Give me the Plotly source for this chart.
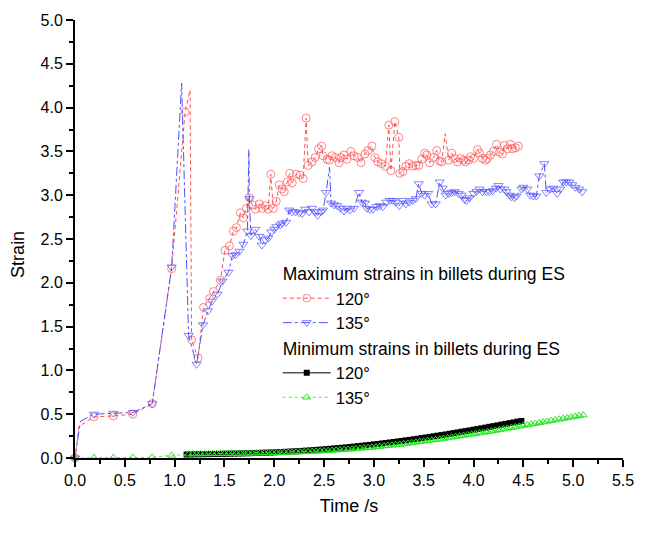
import plotly.graph_objects as go

# ---------------- data ----------------
# Maximum strain, 120° channel: sampled points (time in s, effective strain)
MAX120_T = [0.0, 0.19, 0.385, 0.58, 0.775, 0.97, 1.105, 1.17, 1.235, 1.29, 1.35, 1.39,
            1.46, 1.505, 1.55, 1.59, 1.62, 1.66, 1.69, 1.72, 1.75, 1.78, 1.81, 1.85,
            1.88, 1.91, 1.94, 1.965, 1.99, 2.02, 2.05, 2.08, 2.10, 2.13, 2.155, 2.18,
            2.22, 2.26, 2.29, 2.32, 2.34, 2.38, 2.41, 2.445, 2.475, 2.49, 2.53, 2.555,
            2.58, 2.615, 2.65, 2.67, 2.70, 2.73, 2.77, 2.80, 2.835, 2.87, 2.91, 2.94,
            2.98, 3.01, 3.04, 3.075, 3.115, 3.15, 3.17, 3.21, 3.25, 3.26, 3.29, 3.32,
            3.355, 3.39, 3.42, 3.45, 3.48, 3.51, 3.53, 3.56, 3.60, 3.63, 3.66, 3.68,
            3.75, 3.78, 3.81, 3.84, 3.87, 3.90, 3.92, 3.95, 3.97, 4.00, 4.04, 4.06,
            4.09, 4.12, 4.14, 4.17, 4.20, 4.23, 4.26, 4.29, 4.31, 4.34, 4.37, 4.39,
            4.42, 4.45]
MAX120_S = [0.0, 0.47, 0.48, 0.50, 0.62, 2.16, 3.95, 1.35, 1.14, 1.72, 1.82, 1.90,
            2.03, 2.37, 2.42, 2.59, 2.63, 2.80, 2.74, 2.85, 2.97, 2.89, 2.84, 2.90,
            2.85, 2.88, 2.84, 3.24, 2.85, 2.93, 3.12, 3.07, 3.04, 3.15, 3.25, 3.14,
            3.24, 3.23, 3.19, 3.88, 3.34, 3.38, 3.43, 3.53, 3.56, 3.45, 3.41, 3.40,
            3.45, 3.43, 3.37, 3.43, 3.46, 3.41, 3.50, 3.45, 3.43, 3.37, 3.47, 3.51,
            3.56, 3.43, 3.38, 3.36, 3.33, 3.80, 3.28, 3.84, 3.66, 3.25, 3.27, 3.33,
            3.36, 3.33, 3.34, 3.34, 3.41, 3.48, 3.46, 3.37, 3.43, 3.51, 3.39, 3.38,
            3.40, 3.48, 3.42, 3.38, 3.42, 3.40, 3.38, 3.40, 3.44, 3.42, 3.52, 3.48,
            3.42, 3.40, 3.42, 3.46, 3.50, 3.58, 3.49, 3.47, 3.57, 3.53, 3.58, 3.53,
            3.54, 3.56]
# short-lived peaks between samples (drawn as line only)
MAX120_PEAK_T = [0.04, 1.155, 3.715]
MAX120_PEAK_S = [0.36, 4.20, 3.70]

# Maximum strain, 135° channel
MAX135_T = [0.0, 0.19, 0.385, 0.58, 0.775, 0.97, 1.14, 1.22, 1.285, 1.335, 1.375, 1.43,
            1.48, 1.54, 1.58, 1.61, 1.65, 1.69, 1.73, 1.75, 1.765, 1.81, 1.85, 1.875,
            1.91, 1.94, 1.97, 2.00, 2.02, 2.06, 2.08, 2.12, 2.15, 2.18, 2.215, 2.25,
            2.28, 2.31, 2.35, 2.38, 2.41, 2.435, 2.47, 2.49, 2.52, 2.57, 2.60, 2.63,
            2.665, 2.70, 2.73, 2.76, 2.80, 2.85, 2.88, 2.91, 2.93, 2.96, 2.99, 3.03,
            3.06, 3.09, 3.125, 3.16, 3.19, 3.22, 3.255, 3.29, 3.32, 3.355, 3.39, 3.42,
            3.45, 3.48, 3.51, 3.545, 3.58, 3.62, 3.66, 3.69, 3.72, 3.75, 3.78, 3.81,
            3.85, 3.88, 3.91, 3.93, 3.96, 4.00, 4.03, 4.06, 4.09, 4.13, 4.16, 4.19,
            4.225, 4.25, 4.27, 4.31, 4.33, 4.36, 4.38, 4.41, 4.43, 4.48, 4.50, 4.54,
            4.57, 4.60, 4.63, 4.66, 4.71, 4.73, 4.77, 4.80, 4.84, 4.87, 4.90, 4.93,
            4.96, 4.99, 5.02, 5.06, 5.09]
MAX135_S = [0.0, 0.50, 0.51, 0.52, 0.62, 2.18, 1.40, 1.07, 1.52, 1.68, 1.79, 1.87,
            2.02, 2.12, 2.31, 2.32, 2.36, 2.44, 2.59, 2.96, 2.54, 2.61, 2.53, 2.43,
            2.49, 2.51, 2.58, 2.61, 2.64, 2.66, 2.68, 2.69, 2.83, 2.81, 2.81, 2.80,
            2.79, 2.84, 2.81, 2.85, 2.81, 2.77, 2.81, 2.83, 3.03, 2.91, 2.89, 2.88,
            2.85, 2.82, 2.85, 2.83, 2.85, 3.03, 2.92, 2.91, 2.85, 2.84, 2.84, 2.87,
            2.88, 2.87, 2.92, 2.94, 2.94, 2.92, 2.88, 2.94, 2.90, 2.92, 2.94, 2.96,
            3.13, 3.02, 3.00, 3.02, 2.90, 2.90, 3.15, 3.08, 3.00, 3.02, 3.03, 3.04,
            3.02, 3.00, 2.95, 2.94, 2.97, 3.02, 3.04, 3.07, 3.04, 3.04, 3.04, 3.05,
            3.08, 3.11, 3.07, 3.07, 3.04, 3.00, 2.98, 2.97, 2.99, 3.07, 3.09, 3.07,
            3.00, 2.99, 2.99, 3.22, 3.36, 3.03, 3.07, 3.08, 3.02, 3.07, 3.15, 3.15,
            3.15, 3.12, 3.09, 3.07, 3.04]
MAX135_PEAK_T = [0.055, 1.07, 1.745, 2.555]
MAX135_PEAK_S = [0.42, 4.28, 3.52, 3.32]

# Minimum strain, 120° channel (sampled every 0.04 s from 1.12 s)
MIN120_T0, MIN120_DT = 1.12, 0.04
MIN120_S = [0.040, 0.041, 0.042, 0.043, 0.043, 0.044, 0.045, 0.046, 0.047, 0.048,
            0.049, 0.050, 0.051, 0.052, 0.053, 0.054, 0.055, 0.057, 0.058, 0.060,
            0.061, 0.063, 0.065, 0.067, 0.069, 0.071, 0.073, 0.076, 0.078, 0.081,
            0.084, 0.087, 0.090, 0.094, 0.097, 0.101, 0.105, 0.109, 0.113, 0.117,
            0.121, 0.126, 0.130, 0.135, 0.140, 0.145, 0.150, 0.155, 0.160, 0.166,
            0.171, 0.177, 0.183, 0.189, 0.195, 0.201, 0.207, 0.214, 0.220, 0.227,
            0.234, 0.241, 0.248, 0.255, 0.262, 0.269, 0.277, 0.284, 0.292, 0.300,
            0.307, 0.315, 0.323, 0.331, 0.339, 0.347, 0.356, 0.364, 0.372, 0.381,
            0.389, 0.398, 0.406, 0.415, 0.423]

# Minimum strain, 135° channel: early samples, then every 0.04 s from 1.14 s
MIN135_EARLY_T = [0.0, 0.19, 0.385, 0.58, 0.775, 0.97]
MIN135_EARLY_S = [0.0, 0.005, 0.005, 0.006, 0.008, 0.030]
MIN135_T0, MIN135_DT = 1.14, 0.04
MIN135_S = [0.044, 0.045, 0.045, 0.046, 0.046, 0.047, 0.047, 0.048, 0.049, 0.049,
            0.050, 0.050, 0.051, 0.052, 0.052, 0.053, 0.054, 0.055, 0.056, 0.057,
            0.058, 0.059, 0.060, 0.061, 0.062, 0.063, 0.065, 0.066, 0.068, 0.070,
            0.072, 0.074, 0.076, 0.078, 0.080, 0.083, 0.086, 0.089, 0.092, 0.095,
            0.098, 0.101, 0.105, 0.109, 0.113, 0.117, 0.121, 0.126, 0.131, 0.136,
            0.141, 0.146, 0.151, 0.156, 0.161, 0.167, 0.173, 0.179, 0.185, 0.191,
            0.197, 0.203, 0.209, 0.215, 0.222, 0.229, 0.236, 0.243, 0.250, 0.257,
            0.264, 0.271, 0.278, 0.285, 0.292, 0.299, 0.306, 0.314, 0.322, 0.330,
            0.338, 0.346, 0.354, 0.362, 0.370, 0.378, 0.386, 0.394, 0.402, 0.410,
            0.418, 0.426, 0.434, 0.442, 0.450, 0.458, 0.466, 0.474, 0.482, 0.490]

GROUP_MAX = "Maximum strains in billets during ES"
GROUP_MIN = "Minimum strains in billets during ES"
LABEL_120 = "120°"
LABEL_135 = "135°"

FONT = "Arial, Liberation Sans, sans-serif"


def with_peaks(t, s, pt, ps, size):
    """Merge sampled points with line-only peaks; peaks get zero-size markers."""
    pts = [(a, b, size) for a, b in zip(t, s)] + [(a, b, 0) for a, b in zip(pt, ps)]
    pts.sort(key=lambda p: p[0])
    return [p[0] for p in pts], [p[1] for p in pts], [p[2] for p in pts]


def grid(t0, dt, n):
    return [round(t0 + dt * i, 3) for i in range(n)]


fig = go.Figure()

x, y, sz = with_peaks(MAX120_T, MAX120_S, MAX120_PEAK_T, MAX120_PEAK_S, 8)
fig.add_trace(go.Scatter(
    x=x, y=y, mode="lines+markers", name=LABEL_120,
    legendgroup="max", legendgrouptitle=dict(text=GROUP_MAX),
    line=dict(color="rgb(255,80,80)", width=1, dash="4px,3px"),
    marker=dict(symbol="circle-open", size=sz, color="rgb(255,80,80)",
                line=dict(width=1)),
    cliponaxis=False))

x, y, sz = with_peaks(MAX135_T, MAX135_S, MAX135_PEAK_T, MAX135_PEAK_S, 8)
fig.add_trace(go.Scatter(
    x=x, y=y, mode="lines+markers", name=LABEL_135,
    legendgroup="max",
    line=dict(color="rgb(80,80,255)", width=1, dash="dashdot"),
    marker=dict(symbol="triangle-down-open", size=sz, color="rgb(80,80,255)",
                line=dict(width=1)),
    cliponaxis=False))

fig.add_trace(go.Scatter(
    x=grid(MIN120_T0, MIN120_DT, len(MIN120_S)), y=MIN120_S,
    mode="lines+markers", name=LABEL_120,
    legendgroup="min", legendgrouptitle=dict(text=GROUP_MIN),
    line=dict(color="black", width=1),
    marker=dict(symbol="square", size=6, color="black"),
    cliponaxis=False))

fig.add_trace(go.Scatter(
    x=MIN135_EARLY_T + grid(MIN135_T0, MIN135_DT, len(MIN135_S)),
    y=MIN135_EARLY_S + MIN135_S,
    mode="lines+markers", name=LABEL_135,
    legendgroup="min",
    line=dict(color="rgb(40,255,40)", width=1, dash="dot"),
    marker=dict(symbol="triangle-up-open", size=7, color="rgb(40,230,40)",
                line=dict(width=1)),
    cliponaxis=False))

axis_common = dict(
    showline=True, linewidth=2, linecolor="black", mirror=False,
    ticks="outside", ticklen=7, tickwidth=2, tickcolor="black",
    showgrid=False, zeroline=False, tickformat=".1f",
    tickfont=dict(family=FONT, size=16, color="black"),
    minor=dict(dtick=0.25, ticks="outside", ticklen=4, tickwidth=1.5,
               tickcolor="black", showgrid=False),
)

fig.update_xaxes(range=[0, 5.5], dtick=0.5, tick0=0,
                 title=dict(text="Time /s", font=dict(family=FONT, size=18, color="black"),
                            standoff=11),
                 **axis_common)
fig.update_yaxes(range=[0, 5.0], dtick=0.5, tick0=0, **axis_common)

fig.update_layout(
    width=646, height=538,
    margin=dict(l=75, r=13, t=17, b=80),
    plot_bgcolor="white", paper_bgcolor="white",
    font=dict(family=FONT, color="black"),
    legend=dict(
        x=0.37, y=0.463, xanchor="left", yanchor="top",
        bgcolor="rgba(0,0,0,0)", borderwidth=0,
        font=dict(family=FONT, size=16.5, color="black"),
        grouptitlefont=dict(family=FONT, size=17.5, color="black"),
        tracegroupgap=0, traceorder="grouped",
        itemwidth=48,
    ),
    annotations=[dict(
        text="Strain", xref="paper", yref="paper", x=-0.103, y=0.465,
        xanchor="center", yanchor="middle", textangle=-90, showarrow=False,
        font=dict(family=FONT, size=18, color="black"),
    )],
)

fig.write_html("out.html")
